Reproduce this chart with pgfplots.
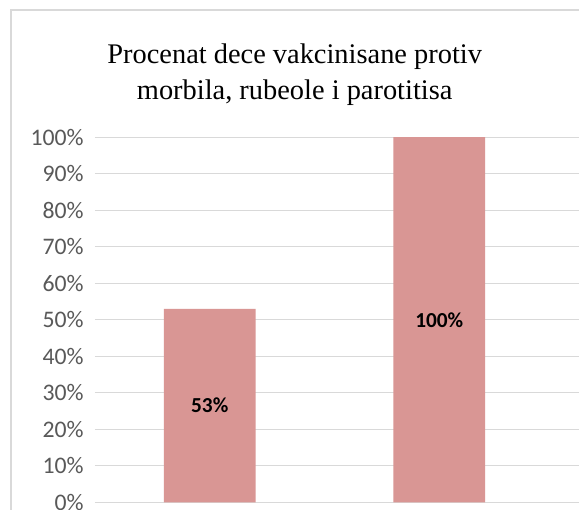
\documentclass[border=0pt]{standalone}
\usepackage{fontspec}
\setmainfont{Liberation Serif}
\newfontfamily\calibri{Carlito}
\usepackage{pgfplots}
\pgfplotsset{compat=1.18}
\definecolor{barcol}{HTML}{D99694}
\definecolor{gridcol}{HTML}{D9D9D9}
\definecolor{tickcol}{HTML}{595959}
\begin{document}
\begin{tikzpicture}
\useasboundingbox (0,0) rectangle (434.25pt,382.5pt);
\clip (0,0) rectangle (434.25pt,382.5pt);
\fill[white] (0,0) rectangle (434.25pt,382.5pt);
\draw[gridcol, line width=1.2pt] (8.25pt,375pt) rectangle (460pt,-20pt);
\node[align=center, anchor=base, font=\fontsize{21.3pt}{27pt}\selectfont] at (221pt,307.5pt)
  {Procenat dece vakcinisane protiv\\morbila, rubeole i parotitisa};
\begin{axis}[
  at={(71.25pt,5.625pt)}, anchor=south west,
  scale only axis, width=378.7pt, height=274.1pt,
  xmin=-0.5, xmax=1.7, ymin=0, ymax=100,
  axis line style={draw=none}, tick style={draw=none},
  xtick=\empty,
  ytick={0,10,...,100},
  yticklabels={0\%,10\%,20\%,30\%,40\%,50\%,60\%,70\%,80\%,90\%,100\%},
  yticklabel style={font=\calibri\fontsize{17.8pt}{20pt}\selectfont, text=tickcol, xshift=-5pt},
  ymajorgrids, major grid style={gridcol, line width=0.75pt},
  clip=false,
]
\addplot[ybar, bar width=0.4, fill=barcol, draw=none] coordinates {(0,53) (1,100)};
\addplot[only marks, mark=none, point meta=explicit symbolic,
  nodes near coords,
  every node near coord/.append style={anchor=center, font=\calibri\bfseries\fontsize{16pt}{19pt}\selectfont, text=black}]
  coordinates {(0,26.5) [53\%] (1,50) [100\%]};
\end{axis}
\end{tikzpicture}
\end{document}
